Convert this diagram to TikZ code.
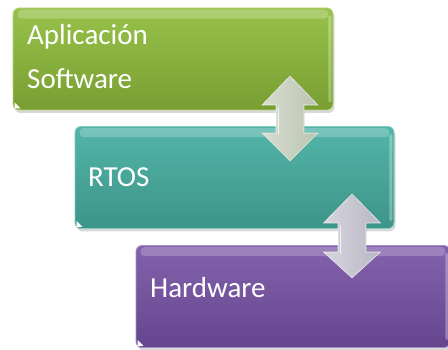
\documentclass[tikz,border=0pt]{standalone}
\usepackage{fontspec}
\setmainfont{Carlito}
\usetikzlibrary{shadows}

\definecolor{grnTop}{HTML}{98C24A}
\definecolor{grnBot}{HTML}{789E32}
\definecolor{tealTop}{HTML}{52B5A8}
\definecolor{tealBot}{HTML}{3E9488}
\definecolor{purTop}{HTML}{8262AC}
\definecolor{purBot}{HTML}{65468E}
\definecolor{arrGrn}{HTML}{DCE6D0}
\definecolor{arrPur}{HTML}{DAD7E6}

\tikzset{
  tier/.style={rounded corners=6pt, minimum height=102pt, inner sep=0pt,
    line width=0.8pt,
    drop shadow={opacity=0.3, shadow xshift=1.5pt, shadow yshift=-3pt}},
  lbl/.style={text=white, font=\fontsize{29}{29}\selectfont, inner sep=0pt, anchor=base west},
  gloss/.style={fill=white, fill opacity=0.22, rounded corners=4pt},
  bevel/.style={draw=white, line width=0.6pt, fill opacity=0.92, draw opacity=0.8, line join=miter}
}

\begin{document}
\begin{tikzpicture}[x=1pt, y=-1pt]
  \useasboundingbox (0,0) rectangle (448,350);

  % three stacked tiers
  \node[tier, minimum width=320pt, top color=grnTop, bottom color=grnBot, draw=grnTop!70!white] (app) at (173,59) {};
  \node[tier, minimum width=319pt, top color=tealTop, bottom color=tealBot, draw=tealTop!70!white] (rtos) at (234.5,177.5) {};
  \node[tier, minimum width=314pt, top color=purTop, bottom color=purBot, draw=purTop!70!white] (hw) at (293,296.5) {};

  % glossy highlight along the top of each tier
  \foreach \b in {app, rtos, hw} {
    \fill[gloss] ([xshift=5pt,yshift=-2pt]\b.north west) rectangle ([xshift=-5pt,yshift=-11pt]\b.north east);
    \fill[white, fill opacity=0.3, rounded corners=2pt] ([xshift=-5pt,yshift=-8pt]\b.north east) rectangle ([xshift=-2pt,yshift=8pt]\b.south east);
    \fill[white] ([xshift=2pt,yshift=2pt]\b.south west) -- ++(0,-6) -- ++(6,6) -- cycle;
  }

  % labels
  \node[lbl] (t1) at (27,45) {Aplicación};
  \node[lbl] (t2) at (27,89) {Software};
  \node[lbl] (t3) at (88,187) {RTOS};
  \node[lbl] (t4) at (150,298) {Hardware};

  % double block arrows between neighbouring tiers
  \coordinate (a1) at (290,118);
  \coordinate (a2) at (352,236);

  \filldraw[bevel, shift={(a1)}, left color=arrGrn!60!white, right color=arrGrn!92!black]
    (0,-42) -- (28,-13) -- (14,-13) -- (14,15) -- (28,15) -- (0,43)
    -- (-28,15) -- (-14,15) -- (-14,-13) -- (-28,-13) -- cycle;
  \draw[white, opacity=0.7, line width=0.8pt, shift={(a1)}] (-12,-11) -- (-12,17);

  \filldraw[bevel, shift={(a2)}, left color=arrPur!60!white, right color=arrPur!92!black]
    (0,-42) -- (28.5,-13) -- (14,-13) -- (14,16) -- (28.5,16) -- (0,42)
    -- (-28.5,16) -- (-14,16) -- (-14,-13) -- (-28.5,-13) -- cycle;
  \draw[white, opacity=0.7, line width=0.8pt, shift={(a2)}] (-12,-11) -- (-12,18);
\end{tikzpicture}
\end{document}
